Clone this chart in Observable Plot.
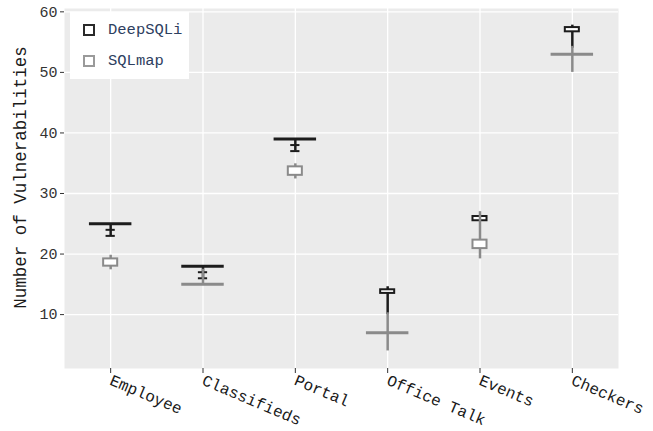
<!DOCTYPE html>
<html>
<head>
<meta charset="utf-8">
<script src="https://cdn.jsdelivr.net/npm/d3@7"></script>
<script src="https://cdn.jsdelivr.net/npm/@observablehq/plot@0.6"></script>
<style>
  html, body { margin: 0; padding: 0; background: #fff; }
  #wrap { position: relative; width: 653px; height: 431px; font-family: "Liberation Mono", monospace; }
  #wrap svg { font-family: "Liberation Mono", monospace; }
  #wrap g[aria-label="y-axis tick label"] text { font-size: 15px; fill: #333; }
  #wrap g[aria-label="x-axis tick label"] text { font-size: 16px; fill: #1a1a1a; }
  .legend { position: absolute; left: 70px; top: 12px; width: 119px; height: 67px; background: #fff; }
  .item { position: absolute; left: 13px; display: flex; align-items: center; font-size: 15.5px; color: #2e4060; }
  .sw { width: 8px; height: 8px; border: 2px solid #222; margin-right: 13px; background: #fff; }
</style>
</head>
<body>
<div id="wrap"></div>
<script>
const categories = ["Employee", "Classifieds", "Portal", "Office Talk", "Events", "Checkers"];
const yTicks = [10, 20, 30, 40, 50, 60];
const seriesNames = ["DeepSQLi", "SQLmap"];

// DeepSQLi
const deepLo  = [23,   16,   37,   10,   25.5, 54];
const deepQ1  = [25,   18,   39,   13.5, 25.5, 56.7];
const deepMed = [25,   18,   39,   13.8, 25.8, 57];
const deepQ3  = [25,   18,   39,   14.1, 26.2, 57.4];
const deepHi  = [25,   18,   39,   14.6, 26.2, 57.8];
const deepOut = [[24, 23], [17, 16], [38, 37], [], [], []];

// SQLmap
const sqlLo  = [17.4, 15,   32.4, 4,    19.2, 50];
const sqlQ1  = [18,   15,   33,   7,    20.9, 53];
const sqlMed = [18.5, 15,   33.6, 7,    21.5, 53];
const sqlQ3  = [19.2, 15,   34.4, 7,    22.3, 53];
const sqlHi  = [19.8, 17.5, 34.9, 10.3, 27,   54.3];
const sqlOut = [[], [], [], [], [], []];

const colors = { DeepSQLi: "#1c1c1c", SQLmap: "#8a8a8a" };

function build(name, lo, q1, med, q3, hi, out) {
  return categories.map((c, i) => ({
    name, i, lo: lo[i], q1: q1[i], med: med[i], q3: q3[i], hi: hi[i], out: out[i], flat: q1[i] === q3[i]
  }));
}
const deep = build("DeepSQLi", deepLo, deepQ1, deepMed, deepQ3, deepHi, deepOut);
const sql = build("SQLmap", sqlLo, sqlQ1, sqlMed, sqlQ3, sqlHi, sqlOut);

const bw = 0.076;   // half box width (x units)
const fw = 0.23;    // half width of collapsed boxes
const ow = 0.05;    // half width of outlier dashes

function boxMarks(rows) {
  const color = colors[rows[0].name];
  const outs = rows.flatMap(d => d.out.map(v => ({ i: d.i, v })));
  return [
    Plot.ruleX(rows, { x: "i", y1: "lo", y2: "hi", stroke: color, strokeWidth: 2.5 }),
    Plot.ruleY(outs, { y: "v", x1: d => d.i - ow, x2: d => d.i + ow, stroke: color, strokeWidth: 2 }),
    Plot.rect(rows.filter(d => !d.flat), { x1: d => d.i - bw, x2: d => d.i + bw, y1: "q1", y2: "q3", fill: "white", stroke: color, strokeWidth: 2 }),
    Plot.ruleY(rows.filter(d => d.flat), { y: "med", x1: d => d.i - fw, x2: d => d.i + fw, stroke: color, strokeWidth: 3 })
  ];
}

const chart = Plot.plot({
  width: 653,
  height: 431,
  marginLeft: 64,
  marginRight: 35,
  marginTop: 8,
  marginBottom: 63,
  x: { domain: [-0.5, 5.5] },
  y: { domain: [1.1, 60.55] },
  marks: [
    Plot.frame({ fill: "#ebebeb", stroke: null }),
    Plot.gridY(yTicks, { stroke: "white", strokeOpacity: 1, strokeWidth: 1.3 }),
    Plot.gridX(d3.range(categories.length), { stroke: "white", strokeOpacity: 1, strokeWidth: 1.3 }),
    Plot.axisY(yTicks, { tickSize: 4, tickPadding: 3, stroke: "#333", label: null }),
    Plot.axisX(d3.range(categories.length), { tickSize: 5, tickPadding: 6, stroke: "#333", tickFormat: i => categories[i], tickRotate: 23, label: null }),
    Plot.text(["Number of Vulnerabilities"], { frameAnchor: "left", textAnchor: "middle", text: d => d, rotate: -90, dx: -44, dy: -11, fontSize: 17.5, fill: "#1a1a1a" }),
    ...boxMarks(deep),
    ...boxMarks(sql)
  ]
});

const wrap = document.getElementById("wrap");
wrap.appendChild(chart);

const legend = document.createElement("div");
legend.className = "legend";
seriesNames.forEach((n, k) => {
  const it = document.createElement("div");
  it.className = "item";
  it.style.top = (k === 0 ? 9 : 40) + "px";
  const sw = document.createElement("span");
  sw.className = "sw";
  sw.style.borderColor = n === "DeepSQLi" ? "#2a2a2a" : "#9a9a9a";
  const t = document.createElement("span");
  t.textContent = n;
  it.appendChild(sw);
  it.appendChild(t);
  legend.appendChild(it);
});
wrap.appendChild(legend);
</script>
</body>
</html>
